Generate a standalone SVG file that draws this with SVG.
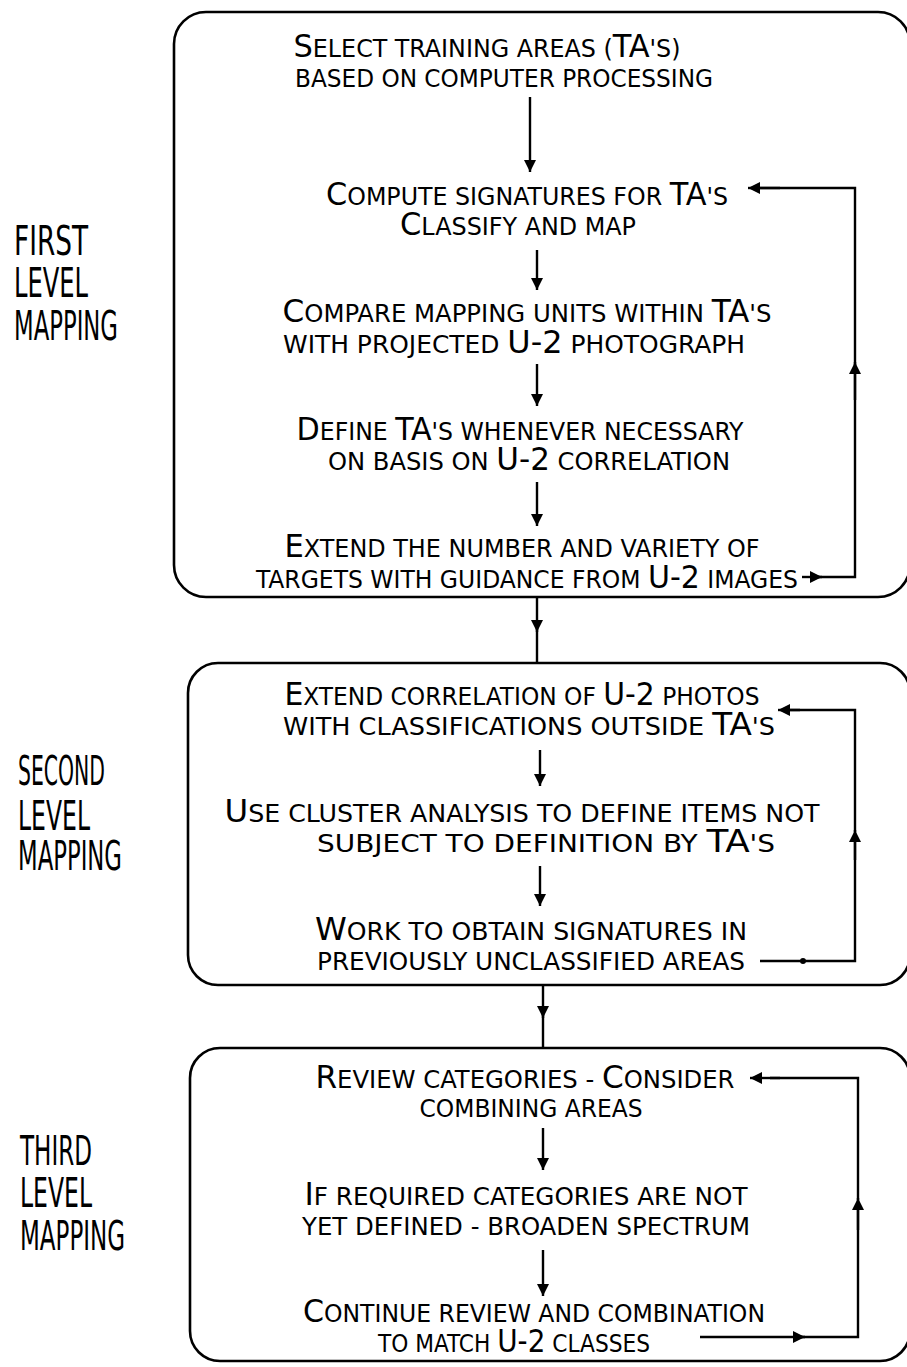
<svg xmlns="http://www.w3.org/2000/svg" width="907" height="1367" viewBox="0 0 907 1367">
<style>
.box{fill:none;stroke:#000;stroke-width:2.6}
.t{font-family:"Liberation Sans Narrow","DejaVu Sans Condensed","Liberation Sans",sans-serif;font-size:25px;fill:#000;text-anchor:middle}
.b{font-size:32px}
.lab{font-family:"Liberation Sans Narrow","DejaVu Sans Condensed","Liberation Sans",sans-serif;font-size:40px;fill:#000}
.c{fill:none;stroke:#000;stroke-width:2.4}
</style>
<defs>
<marker id="ah" viewBox="0 0 10 10" refX="10" refY="5" markerUnits="userSpaceOnUse" markerWidth="20" markerHeight="12" orient="auto">
<path d="M0,0 L10,5 L0,10 z" fill="#000"/>
</marker>
</defs>
<rect width="907" height="1367" fill="#fff"/>

<g id="labels">
<text class="lab" x="14" y="255" textLength="74" lengthAdjust="spacingAndGlyphs">FIRST</text>
<text class="lab" x="14" y="297" textLength="74" lengthAdjust="spacingAndGlyphs">LEVEL</text>
<text class="lab" x="14" y="340" textLength="104" lengthAdjust="spacingAndGlyphs">MAPPING</text>
<text class="lab" x="18" y="785" textLength="87" lengthAdjust="spacingAndGlyphs">SECOND</text>
<text class="lab" x="18" y="830" textLength="72" lengthAdjust="spacingAndGlyphs">LEVEL</text>
<text class="lab" x="18" y="870" textLength="104" lengthAdjust="spacingAndGlyphs">MAPPING</text>
<text class="lab" x="20" y="1165" textLength="72" lengthAdjust="spacingAndGlyphs">THIRD</text>
<text class="lab" x="20" y="1207" textLength="72" lengthAdjust="spacingAndGlyphs">LEVEL</text>
<text class="lab" x="20" y="1250" textLength="105" lengthAdjust="spacingAndGlyphs">MAPPING</text>
</g>

<g id="box1"><rect class="box" x="174" y="12" width="736" height="585" rx="32"/></g>
<g id="box2"><rect class="box" x="188" y="663" width="722" height="322" rx="30"/></g>
<g id="box3"><rect class="box" x="190" y="1048" width="720" height="313" rx="30"/></g>

<g id="n1">
<text class="t" x="487" y="57" textLength="387" lengthAdjust="spacingAndGlyphs"><tspan class="b">S</tspan>ELECT TRAINING AREAS (<tspan class="b">TA</tspan>'S)</text>
<text class="t" x="504" y="87" textLength="418" lengthAdjust="spacingAndGlyphs">BASED ON COMPUTER PROCESSING</text>
</g>
<g id="n2">
<text class="t" x="527" y="205" textLength="402" lengthAdjust="spacingAndGlyphs"><tspan class="b">C</tspan>OMPUTE SIGNATURES FOR <tspan class="b">TA</tspan>'S</text>
<text class="t" x="518" y="235" textLength="236" lengthAdjust="spacingAndGlyphs"><tspan class="b">C</tspan>LASSIFY AND MAP</text>
</g>
<g id="n3">
<text class="t" x="527" y="322" textLength="489" lengthAdjust="spacingAndGlyphs"><tspan class="b">C</tspan>OMPARE MAPPING UNITS WITHIN <tspan class="b">TA</tspan>'S</text>
<text class="t" x="514" y="353" textLength="462" lengthAdjust="spacingAndGlyphs">WITH PROJECTED <tspan class="b">U-2</tspan> PHOTOGRAPH</text>
</g>
<g id="n4">
<text class="t" x="520" y="440" textLength="447" lengthAdjust="spacingAndGlyphs"><tspan class="b">D</tspan>EFINE <tspan class="b">TA</tspan>'S WHENEVER NECESSARY</text>
<text class="t" x="529" y="470" textLength="402" lengthAdjust="spacingAndGlyphs">ON BASIS ON <tspan class="b">U-2</tspan> CORRELATION</text>
</g>
<g id="n5">
<text class="t" x="522" y="557" textLength="475" lengthAdjust="spacingAndGlyphs"><tspan class="b">E</tspan>XTEND THE NUMBER AND VARIETY OF</text>
<text class="t" x="527" y="588" textLength="542" lengthAdjust="spacingAndGlyphs">TARGETS WITH GUIDANCE FROM <tspan class="b">U-2</tspan> IMAGES</text>
</g>
<g id="n6">
<text class="t" x="522" y="705" textLength="475" lengthAdjust="spacingAndGlyphs"><tspan class="b">E</tspan>XTEND CORRELATION OF <tspan class="b">U-2</tspan> PHOTOS</text>
<text class="t" x="529" y="735" textLength="492" lengthAdjust="spacingAndGlyphs">WITH CLASSIFICATIONS OUTSIDE <tspan class="b">TA</tspan>'S</text>
</g>
<g id="n7">
<text class="t" x="522" y="822" textLength="595" lengthAdjust="spacingAndGlyphs"><tspan class="b">U</tspan>SE CLUSTER ANALYSIS TO DEFINE ITEMS NOT</text>
<text class="t" x="546" y="852" textLength="458" lengthAdjust="spacingAndGlyphs">SUBJECT TO DEFINITION BY <tspan class="b">TA</tspan>'S</text>
</g>
<g id="n8">
<text class="t" x="531" y="940" textLength="432" lengthAdjust="spacingAndGlyphs"><tspan class="b">W</tspan>ORK TO OBTAIN SIGNATURES IN</text>
<text class="t" x="531" y="970" textLength="428" lengthAdjust="spacingAndGlyphs">PREVIOUSLY UNCLASSIFIED AREAS</text>
</g>
<g id="n9">
<text class="t" x="525" y="1088" textLength="419" lengthAdjust="spacingAndGlyphs"><tspan class="b">R</tspan>EVIEW CATEGORIES - <tspan class="b">C</tspan>ONSIDER</text>
<text class="t" x="531" y="1117" textLength="223" lengthAdjust="spacingAndGlyphs">COMBINING AREAS</text>
</g>
<g id="n10">
<text class="t" x="526" y="1205" textLength="443" lengthAdjust="spacingAndGlyphs"><tspan class="b">I</tspan>F REQUIRED CATEGORIES ARE NOT</text>
<text class="t" x="526" y="1235" textLength="448" lengthAdjust="spacingAndGlyphs">YET DEFINED - BROADEN SPECTRUM</text>
</g>
<g id="n11">
<text class="t" x="534" y="1322" textLength="462" lengthAdjust="spacingAndGlyphs"><tspan class="b">C</tspan>ONTINUE REVIEW AND COMBINATION</text>
<text class="t" x="514" y="1352" textLength="272" lengthAdjust="spacingAndGlyphs">TO MATCH <tspan class="b">U-2</tspan> CLASSES</text>
</g>

<g id="connectors">
<line class="c" x1="530" y1="97" x2="530" y2="172" marker-end="url(#ah)"/>
<line class="c" x1="537" y1="250" x2="537" y2="290" marker-end="url(#ah)"/>
<line class="c" x1="537" y1="364" x2="537" y2="406" marker-end="url(#ah)"/>
<line class="c" x1="537" y1="482" x2="537" y2="526" marker-end="url(#ah)"/>
<line class="c" x1="537" y1="598" x2="537" y2="632" marker-end="url(#ah)"/>
<line class="c" x1="537" y1="625" x2="537" y2="663"/>
<line class="c" x1="540" y1="750" x2="540" y2="786" marker-end="url(#ah)"/>
<line class="c" x1="540" y1="866" x2="540" y2="906" marker-end="url(#ah)"/>
<line class="c" x1="543" y1="986" x2="543" y2="1018" marker-end="url(#ah)"/>
<line class="c" x1="543" y1="1010" x2="543" y2="1048"/>
<line class="c" x1="543" y1="1128" x2="543" y2="1170" marker-end="url(#ah)"/>
<line class="c" x1="543" y1="1250" x2="543" y2="1296" marker-end="url(#ah)"/>

<line class="c" x1="802" y1="577" x2="822" y2="577" marker-end="url(#ah)"/>
<polyline class="c" points="815,577 855,577 855,368"/>
<line class="c" x1="855" y1="400" x2="855" y2="362" marker-end="url(#ah)"/>
<polyline class="c" points="855,365 855,188 760,188"/>
<line class="c" x1="780" y1="188" x2="748" y2="188" marker-end="url(#ah)"/>

<line class="c" x1="760" y1="961" x2="815" y2="961"/>
<circle cx="803" cy="961" r="3" fill="#000"/>
<polyline class="c" points="815,961 855,961 855,835"/>
<line class="c" x1="855" y1="860" x2="855" y2="830" marker-end="url(#ah)"/>
<polyline class="c" points="855,832 855,710 790,710"/>
<line class="c" x1="800" y1="710" x2="778" y2="710" marker-end="url(#ah)"/>

<line class="c" x1="700" y1="1337" x2="805" y2="1337" marker-end="url(#ah)"/>
<polyline class="c" points="800,1337 858,1337 858,1210"/>
<line class="c" x1="858" y1="1230" x2="858" y2="1198" marker-end="url(#ah)"/>
<polyline class="c" points="858,1200 858,1078 770,1078"/>
<line class="c" x1="780" y1="1078" x2="750" y2="1078" marker-end="url(#ah)"/>
</g>
</svg>
